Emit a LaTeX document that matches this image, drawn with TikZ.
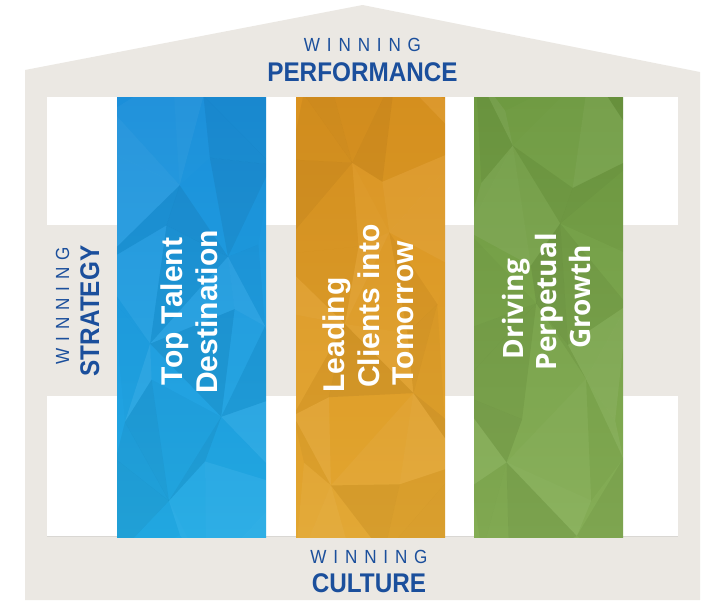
\documentclass[tikz,border=0pt]{standalone}
\usepackage{fontspec}
\setmainfont{Liberation Sans}
\newfontfamily\condf[FakeStretch=0.9]{Liberation Sans}
\newfontfamily\openf{Open Sans}
\definecolor{wallgray}{HTML}{EBE8E3}
\definecolor{linegray}{HTML}{D9D7D3}
\definecolor{navy}{HTML}{1B4F9C}
\definecolor{blueT}{HTML}{1B8FDA}
\definecolor{blueB}{HTML}{22AAE4}
\definecolor{orgT}{HTML}{DA921F}
\definecolor{orgB}{HTML}{E2A630}
\definecolor{grnT}{HTML}{6E9A41}
\definecolor{grnB}{HTML}{84AD54}
\newcommand\spacedwin{W\kern.36em I\kern.36em N\kern.36em N\kern.36em I\kern.36em N\kern.36em G}
\newcommand\pillar[4]{%
  \begin{scope}
    \clip (#1,97) rectangle ++(149,440);
    \shade[top color=#2,bottom color=#3] (#1,97) rectangle ++(149,440);
    \foreach \i in {0,1,2}{\foreach \j in {0,...,5}{
      \pgfmathsetmacro\pXa{#1-8+\i*55+16*sin(\i*137+\j*291+#4)}
      \pgfmathsetmacro\pYa{89+\j*78+22*cos(\i*211+\j*173+#4)}
      \pgfmathsetmacro\pXb{#1-8+(\i+1)*55+16*sin((\i+1)*137+\j*291+#4)}
      \pgfmathsetmacro\pYb{89+\j*78+22*cos((\i+1)*211+\j*173+#4)}
      \pgfmathsetmacro\pXc{#1-8+\i*55+16*sin(\i*137+(\j+1)*291+#4)}
      \pgfmathsetmacro\pYc{89+(\j+1)*78+22*cos(\i*211+(\j+1)*173+#4)}
      \pgfmathsetmacro\pXd{#1-8+(\i+1)*55+16*sin((\i+1)*137+(\j+1)*291+#4)}
      \pgfmathsetmacro\pYd{89+(\j+1)*78+22*cos((\i+1)*211+(\j+1)*173+#4)}
      \coordinate (pA) at (\pXa,\pYa);
      \coordinate (pB) at (\pXb,\pYb);
      \coordinate (pC) at (\pXc,\pYc);
      \coordinate (pD) at (\pXd,\pYd);
      \pgfmathsetmacro\pfa{sin(\i*97+\j*53+#4*3)}
      \pgfmathsetmacro\pfb{sin(\i*61+\j*119+#4*7+40)}
      \pgfmathsetmacro\poa{0.065*abs(\pfa)}
      \pgfmathsetmacro\pob{0.065*abs(\pfb)}
      \ifdim\pfa pt>0pt \def\pca{white}\else\def\pca{black}\fi
      \ifdim\pfb pt>0pt \def\pcb{white}\else\def\pcb{black}\fi
      \pgfmathtruncatemacro\ppar{mod(\i+\j,2)}
      \ifnum\ppar=0
        \fill[fill=\pca,fill opacity=\poa] (pA)--(pB)--(pD)--cycle;
        \fill[fill=\pcb,fill opacity=\pob] (pA)--(pD)--(pC)--cycle;
      \else
        \fill[fill=\pca,fill opacity=\poa] (pA)--(pB)--(pC)--cycle;
        \fill[fill=\pcb,fill opacity=\pob] (pB)--(pD)--(pC)--cycle;
      \fi
    }}
  \end{scope}}
\tikzset{
  winlight/.style={text=navy, font=\condf\fontsize{19}{19}\selectfont, inner sep=0pt, anchor=base},
  winbold/.style={text=navy, font=\condf\bfseries\fontsize{27}{27}\selectfont, inner sep=0pt, anchor=base},
  coltext/.style={text=white, font=\bfseries\fontsize{30}{30}\selectfont, inner sep=0pt, rotate=90, anchor=base},
  coltextg/.style={coltext, font=\openf\bfseries\fontsize{28}{28}\selectfont},
}
\begin{document}
\begin{tikzpicture}[x=1pt,y=-1pt]
\useasboundingbox (0,0) rectangle (704,600);
% house body and roof
\fill[wallgray] (25,600) -- (25,70) -- (362.5,5) -- (700,72) -- (700,600) -- cycle;
% interior
\fill[white] (47,97) rectangle (678,536);
\fill[wallgray] (47,225) rectangle (678,396);
\draw[linegray, line width=1pt] (47,536) -- (678,536);
% pillars
\pillar{117}{blueT}{blueB}{10}
\pillar{296}{orgT}{orgB}{77}
\pillar{474}{grnT}{grnB}{143}
% roof labels
\node[winlight] (wtop) at (362.5,51) {\spacedwin};
\node[winbold] (perf) at (362.5,81) {PERFORMANCE};
% base labels
\node[winlight] (wbot) at (369,563) {\spacedwin};
\node[winbold] (cult) at (369,592) {CULTURE};
% side labels
\node[winlight, rotate=90] (wleft) at (69,306) {\spacedwin};
\node[winbold, rotate=90] (strat) at (99,311) {STRATEGY};
% pillar texts
\node[coltext] (b1) at (182,311.5) {Top Talent};
\node[coltext] (b2) at (217,312) {Destination};
\node[coltext] (o1) at (344,335) {Leading};
\node[coltext] (o2) at (379,306) {Clients into};
\node[coltext] (o3) at (413,313) {Tomorrow};
\node[coltextg] (g1) at (523,309) {Driving};
\node[coltextg] (g2) at (556,302) {Perpetual};
\node[coltextg] (g3) at (590,297) {Growth};
\end{tikzpicture}
\end{document}
